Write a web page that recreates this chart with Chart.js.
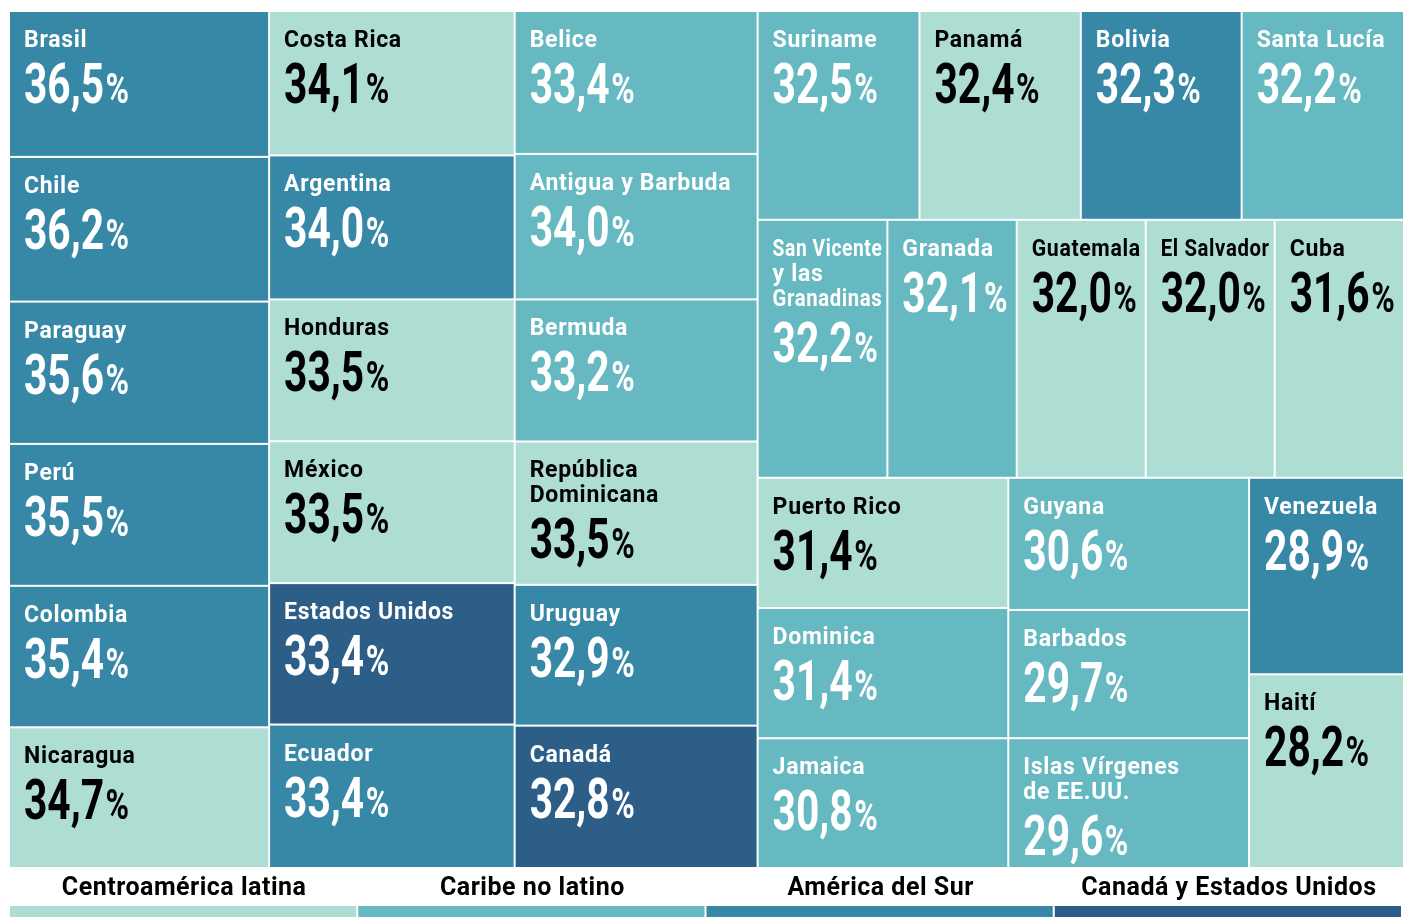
<!DOCTYPE html>
<html>
<head>
<meta charset="utf-8">
<script src="https://cdn.jsdelivr.net/npm/chart.js@4.4.0/dist/chart.umd.min.js"></script>
<style>
  html, body { margin: 0; padding: 0; background: #fff; }
  canvas { display: block; }
</style>
</head>
<body>
<canvas id="grafico" width="1403" height="917"></canvas>
<script>
// Datos del gráfico
const paises = [
  'Brasil', 'Chile', 'Paraguay', 'Perú', 'Colombia', 'Nicaragua',
  'Costa Rica', 'Argentina', 'Honduras', 'México', 'Estados Unidos', 'Ecuador',
  'Belice', 'Antigua y Barbuda', 'Bermuda', 'República\nDominicana', 'Uruguay', 'Canadá',
  'Suriname', 'Panamá', 'Bolivia', 'Santa Lucía',
  'San Vicente\ny las\nGranadinas', 'Granada', 'Guatemala', 'El Salvador', 'Cuba',
  'Puerto Rico', 'Dominica', 'Jamaica', 'Guyana', 'Barbados', 'Islas Vírgenes\nde EE.UU.',
  'Venezuela', 'Haití'
];
const valores = [
  36.5, 36.2, 35.6, 35.5, 35.4, 34.7,
  34.1, 34.0, 33.5, 33.5, 33.4, 33.4,
  33.4, 34.0, 33.2, 33.5, 32.9, 32.8,
  32.5, 32.4, 32.3, 32.2,
  32.2, 32.1, 32.0, 32.0, 31.6,
  31.4, 31.4, 30.8, 30.6, 29.7, 29.6,
  28.9, 28.2
];
// 0 Centroamérica latina, 1 Caribe no latino, 2 América del Sur, 3 Canadá y EE.UU.
const regiones = [
  2, 2, 2, 2, 2, 0,
  0, 2, 0, 0, 3, 2,
  1, 1, 1, 0, 2, 3,
  1, 0, 2, 1,
  1, 1, 0, 0, 0,
  0, 1, 1, 1, 1, 1,
  2, 0
];
const grupos = ['Centroamérica latina', 'Caribe no latino', 'América del Sur', 'Canadá y Estados Unidos'];
const coloresGrupo = ['#aeddd3', '#66b9c1', '#3787a6', '#2d5e87'];
const textoGrupo = ['#000000', '#ffffff', '#ffffff', '#ffffff'];

// Estructura del treemap (índices de paises)
function fila(hijos) { return { dir: 'fila', hijos: hijos }; }
function col(hijos) { return { dir: 'col', hijos: hijos }; }
const arbol = fila([
  col([0, 1, 2, 3, 4, 5]),
  col([6, 7, 8, 9, 10, 11]),
  col([12, 13, 14, 15, 16, 17]),
  col([
    fila([18, 19, 20, 21]),
    fila([22, 23, 24, 25, 26]),
    fila([col([27, 28, 29]), col([30, 31, 32]), col([33, 34])])
  ])
]);

function suma(n) {
  if (typeof n === 'number') return valores[n];
  return n.hijos.reduce(function (s, h) { return s + suma(h); }, 0);
}

// reparte el rectángulo proporcionalmente a los valores
function dividir(n, x0, y0, x1, y1, celdas) {
  if (typeof n === 'number') {
    celdas[n] = { x0: x0, y0: y0, x1: x1, y1: y1 };
    return;
  }
  var total = suma(n);
  var pos = n.dir === 'fila' ? x0 : y0;
  n.hijos.forEach(function (h) {
    var t = suma(h) / total;
    if (n.dir === 'fila') {
      var w = (x1 - x0) * t;
      dividir(h, pos, y0, pos + w, y1, celdas);
      pos += w;
    } else {
      var hh = (y1 - y0) * t;
      dividir(h, x0, pos, x1, pos + hh, celdas);
      pos += hh;
    }
  });
}

var celdas = [];
dividir(arbol, 0, 0, 1, 1, celdas);

function formatear(v) { return v.toFixed(1).replace('.', ','); }

var pluginTreemap = {
  id: 'treemap',
  beforeDatasetsDraw: function (chart) {
    var ctx = chart.ctx, sx = chart.scales.x, sy = chart.scales.y;
    ctx.save();
    celdas.forEach(function (c, i) {
      var l = sx.getPixelForValue(c.x0), r = sx.getPixelForValue(c.x1);
      var t = sy.getPixelForValue(c.y0), b = sy.getPixelForValue(c.y1);
      var w = r - l - (c.x1 < 0.9999 ? 2 : 0);
      var h = b - t - (c.y1 < 0.9999 ? 2 : 0);
      ctx.fillStyle = coloresGrupo[regiones[i]];
      ctx.fillRect(l, t, w, h);

      // etiquetas
      ctx.fillStyle = textoGrupo[regiones[i]];
      ctx.textAlign = 'left';
      ctx.textBaseline = 'alphabetic';
      ctx.font = 'bold 23px Roboto';
      ctx.letterSpacing = '0.7px';
      var lineas = paises[i].split('\n');
      var y = t + 35;
      var x = l + 14;
      lineas.forEach(function (ln, k) {
        ctx.fillText(ln, x, y, w - 18);
        if (k < lineas.length - 1) y += 25;
      });
      ctx.letterSpacing = '0px';
      var yv = y + 56;
      var num = formatear(valores[i]);
      var esc = 0.74;
      ctx.save();
      ctx.translate(x, yv);
      ctx.scale(esc, 1);
      ctx.font = 'bold 55px Roboto';
      ctx.fillText(num, 0, 0);
      var ancho = ctx.measureText(num).width;
      ctx.font = 'bold 43px Roboto';
      ctx.fillText('%', ancho + 2, 0);
      ctx.restore();
    });
    ctx.restore();
  },
  afterDraw: function (chart) {
    var ctx = chart.ctx;
    var izq = chart.chartArea.left;
    var anchoCol = (chart.width - izq) / grupos.length;
    ctx.save();
    grupos.forEach(function (g, k) {
      var x = izq + k * anchoCol;
      ctx.fillStyle = coloresGrupo[k];
      ctx.fillRect(x, 906, anchoCol - 2, 11);
      ctx.fillStyle = '#000';
      ctx.textAlign = 'center';
      ctx.textBaseline = 'alphabetic';
      ctx.font = 'bold 25px Roboto';
      ctx.letterSpacing = '0.5px';
      ctx.fillText(g, x + anchoCol / 2, 895);
      ctx.letterSpacing = '0px';
    });
    ctx.restore();
  }
};

new Chart(document.getElementById('grafico'), {
  type: 'scatter',
  data: {
    datasets: [{
      label: 'Países',
      data: celdas.map(function (c) { return { x: (c.x0 + c.x1) / 2, y: (c.y0 + c.y1) / 2 }; }),
      pointRadius: 0,
      pointHoverRadius: 0
    }]
  },
  options: {
    responsive: false,
    animation: false,
    devicePixelRatio: 1,
    layout: { padding: { left: 10, top: 12, right: 0, bottom: 50 } },
    scales: {
      x: { type: 'linear', min: 0, max: 1, display: false },
      y: { type: 'linear', min: 0, max: 1, reverse: true, display: false }
    },
    plugins: {
      legend: { display: false },
      tooltip: { enabled: false }
    }
  },
  plugins: [pluginTreemap]
});
</script>
</body>
</html>
